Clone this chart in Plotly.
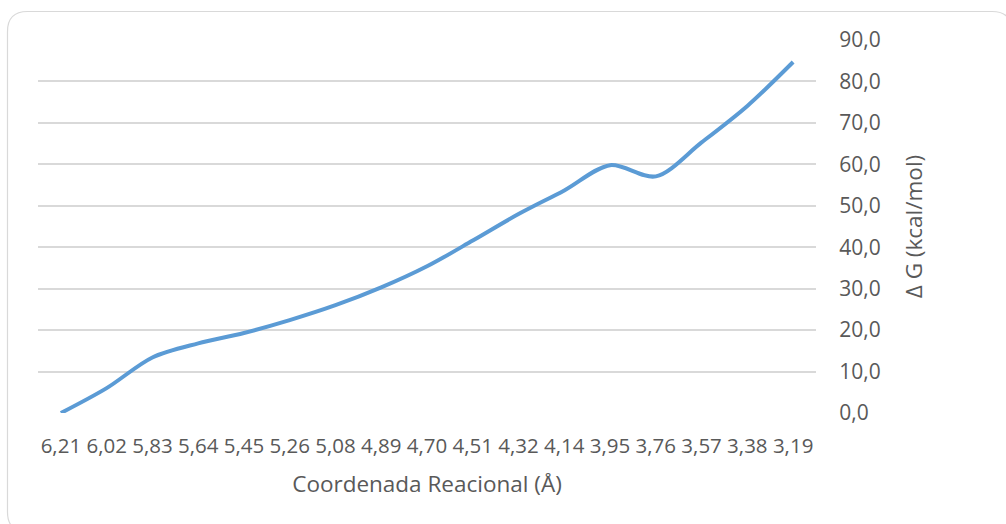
import plotly.graph_objects as go

coord_labels = ["6,21", "6,02", "5,83", "5,64", "5,45", "5,26", "5,08", "4,89", "4,70",
                "4,51", "4,32", "4,14", "3,95", "3,76", "3,57", "3,38", "3,19"]
delta_g = [0.0, 6.0, 13.4, 16.8, 19.3, 22.4, 26.0, 30.3, 35.4, 41.6, 48.0, 53.7,
           59.8, 57.1, 65.3, 74.1, 84.7]

L, R, T, B = 38, 190, 40, 111
W, H = 1006, 524
pw, ph = W - L - R, H - T - B

def px(x):
    return (x - L) / pw

def py(y):
    return (H - B - y) / ph

# rounded chart-area border (pixel coordinates converted to paper)
x0, x1, y0, y1, r = 7.5, 1012, 11.5, 532, 20
path = (f"M {px(x0+r)} {py(y0)} L {px(x1-r)} {py(y0)} Q {px(x1)} {py(y0)} {px(x1)} {py(y0+r)} "
        f"L {px(x1)} {py(y1-r)} Q {px(x1)} {py(y1)} {px(x1-r)} {py(y1)} "
        f"L {px(x0+r)} {py(y1)} Q {px(x0)} {py(y1)} {px(x0)} {py(y1-r)} "
        f"L {px(x0)} {py(y0+r)} Q {px(x0)} {py(y0)} {px(x0+r)} {py(y0)} Z")

font = "Open Sans"
txt = "#595959"

fig = go.Figure()
fig.add_trace(go.Scatter(
    x=list(range(len(coord_labels))), y=delta_g, mode="lines",
    line=dict(color="#5B9BD5", width=4, shape="spline", smoothing=0.9),
    showlegend=False, hoverinfo="skip"))

fig.update_layout(
    width=W, height=H,
    margin=dict(l=L, r=R, t=T, b=B),
    paper_bgcolor="white", plot_bgcolor="white",
    separators=", ",
    font=dict(family=font, color=txt, size=20),
    shapes=[dict(type="path", path=path, xref="paper", yref="paper",
                 line=dict(color="#d9d9d9", width=1.2), layer="below")],
    xaxis=dict(
        tickmode="array", tickvals=list(range(len(coord_labels))), ticktext=coord_labels,
        range=[-0.5, len(coord_labels) - 0.5], showgrid=False, zeroline=False,
        showline=False, ticks="outside", ticklen=14, tickcolor="rgba(0,0,0,0)",
        tickangle=0, tickfont=dict(size=20.5, family=font, color=txt),
        title=dict(text="Coordenada Reacional (Å)", standoff=18,
                   font=dict(size=22.5, family=font, color=txt)),
        fixedrange=True),
    yaxis=dict(
        side="right", range=[0, 90], tickvals=[0, 10, 20, 30, 40, 50, 60, 70, 80, 90],
        tickformat=".1f", showgrid=True, gridcolor="#d9d9d9", gridwidth=1.5,
        zeroline=False, showline=False, ticks="outside", ticklen=18,
        tickcolor="rgba(0,0,0,0)", tickfont=dict(size=21, family=font, color=txt),
        title=dict(text="Δ G (kcal/mol)", standoff=26,
                   font=dict(size=22.5, family=font, color=txt)),
        fixedrange=True),
)

fig.write_html("out.html", config={"displayModeBar": False})

# remove the default 8px page margin so the figure sits at the window origin
with open("out.html", encoding="utf-8") as f:
    html = f.read()
html = html.replace("<head>", "<head><style>html,body{margin:0;padding:0;overflow:hidden}</style>", 1)
with open("out.html", "w", encoding="utf-8") as f:
    f.write(html)
